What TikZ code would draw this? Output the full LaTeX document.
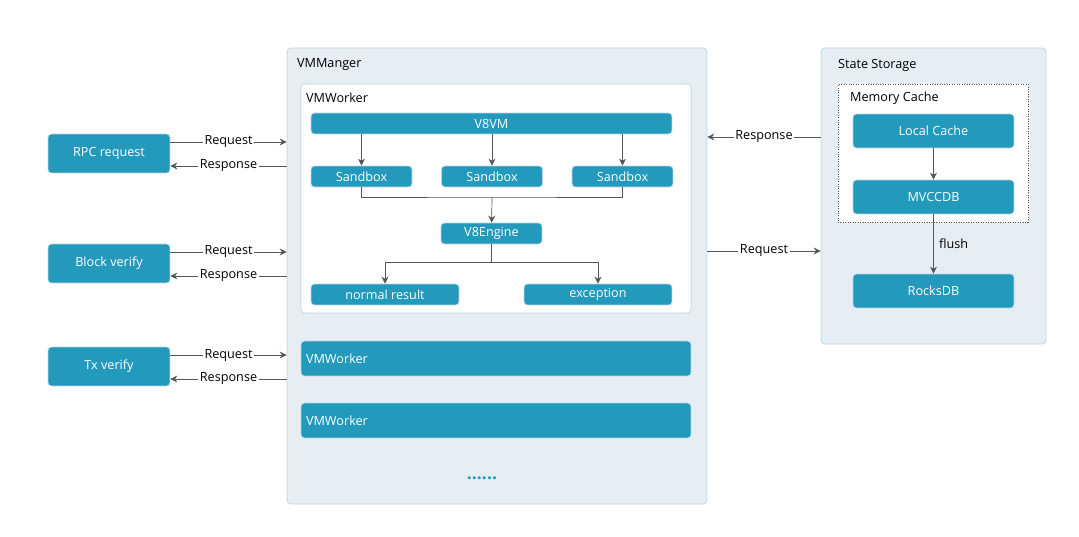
\documentclass[tikz,border=0pt]{standalone}
\usepackage{fontspec}
\setmainfont{Open Sans}
\usepackage{tikz}
\usetikzlibrary{arrows.meta}
\definecolor{barblue}{HTML}{2399BC}
\definecolor{panelfill}{HTML}{E6EEF4}
\definecolor{panelline}{HTML}{B9D7E6}
\definecolor{linegray}{HTML}{555555}
\tikzset{
  panel/.style={draw=panelline, fill=panelfill, rounded corners=2pt, inner sep=0pt},
  inbox/.style={draw=panelline, fill=white, rounded corners=2pt, inner sep=0pt},
  bar/.style={fill=barblue, draw=panelline, rounded corners=2pt, text=white, inner sep=0pt,
    font=\fontsize{7.2}{9}\selectfont},
  lbl/.style={font=\fontsize{7.2}{9}\selectfont, inner sep=1pt},
  arr/.style={draw=linegray, -{Stealth[length=4pt,width=4pt]}},
  ln/.style={draw=linegray},
}
\begin{document}
\begin{tikzpicture}[x=0.02cm, y=-0.02cm]
  \useasboundingbox (0,0) rectangle (1079,537);
  % manager panel
  \node[panel, minimum width=8.4cm, minimum height=9.12cm] (vmm) at (497,276) {};
  \node[lbl, anchor=west] at (295,65) {VMManger};
  \node[inbox, minimum width=7.8cm, minimum height=4.58cm] (worker) at (496,198.5) {};
  \node[lbl, anchor=west] at (304,98) {VMWorker};
  \node[bar, minimum width=7.22cm, minimum height=0.42cm] (v8vm) at (491.5,123.5) {V8VM};
  \node[bar, minimum width=2.02cm, minimum height=0.42cm] (sb1) at (361.5,176.5) {Sandbox};
  \node[bar, minimum width=2.02cm, minimum height=0.42cm] (sb2) at (492,176.5) {Sandbox};
  \node[bar, minimum width=2.02cm, minimum height=0.42cm] (sb3) at (622.5,176.5) {Sandbox};
  \node[bar, minimum width=2.02cm, minimum height=0.42cm] (engine) at (491.5,233.5) {V8Engine};
  \node[bar, minimum width=2.96cm, minimum height=0.42cm] (normal) at (385,294.5) {normal result};
  \node[bar, minimum width=2.96cm, minimum height=0.42cm] (except) at (598,294.5) {exception};
  \node[bar, minimum width=7.8cm, minimum height=0.7cm, text width=7.6cm, align=left] (w2) at (496,358.5) {VMWorker};
  \node[bar, minimum width=7.8cm, minimum height=0.7cm, text width=7.6cm, align=left] (w3) at (496,420.5) {VMWorker};
  \node[text=barblue, font=\bfseries] (dots) at (482,478) {\textbf{......}};
  % sandboxes
  \foreach \s in {sb1,sb2,sb3} \draw[arr] (v8vm.south -| \s) -- (\s);
  \coordinate (join) at (492,197);
  \draw[ln] (sb1) |- (join) -| (sb3);
  \draw[arr] (join) -- (engine);
  \coordinate (split) at (491.5,262);
  \draw[ln] (engine) -- (split);
  \draw[arr] (split) -| (normal);
  \draw[arr] (split) -| (except);
  % clients
  \node[bar, minimum width=2.44cm, minimum height=0.78cm] (rpc) at (109,153.5) {RPC request};
  \node[bar, minimum width=2.44cm, minimum height=0.78cm] (block) at (109,263.5) {Block verify};
  \node[bar, minimum width=2.44cm, minimum height=0.78cm] (tx) at (109,366.5) {Tx verify};
  \foreach \c in {rpc,block,tx} {
    \draw[arr] ([yshift=0.23cm]\c.east) coordinate (a) -- node[lbl, fill=white] {Request} (a -| vmm.west);
    \draw[arr] ([yshift=-0.25cm]\c.east -| vmm.west) coordinate (b) -- node[lbl, fill=white] {Response} ([yshift=-0.25cm]\c.east);
  }
  % storage
  \node[panel, minimum width=4.5cm, minimum height=5.92cm] (store) at (933.5,196) {};
  \node[lbl, anchor=west] at (836,65) {State Storage};
  \node[draw=linegray, densely dotted, fill=white, minimum width=3.8cm, minimum height=2.76cm, inner sep=0pt] (cache) at (933,153) {};
  \node[lbl, anchor=west] at (848,98) {Memory Cache};
  \node[bar, minimum width=3.22cm, minimum height=0.68cm] (local) at (933.5,131) {Local Cache};
  \node[bar, minimum width=3.22cm, minimum height=0.68cm] (mvcc) at (933.5,197) {MVCCDB};
  \node[bar, minimum width=3.22cm, minimum height=0.68cm] (rocks) at (933.5,291) {RocksDB};
  \draw[arr] (local) -- (mvcc);
  \draw[arr] (mvcc) -- node[lbl, right=2pt] {flush} (rocks);
  \draw[arr] (store.west |- 0,137) coordinate (r) -- node[lbl, fill=panelfill!0!white] {Response} (r -| vmm.east);
  \draw[arr] (vmm.east |- 0,251) coordinate (q) -- node[lbl, fill=white] {Request} (q -| store.west);
\end{tikzpicture}
\end{document}
